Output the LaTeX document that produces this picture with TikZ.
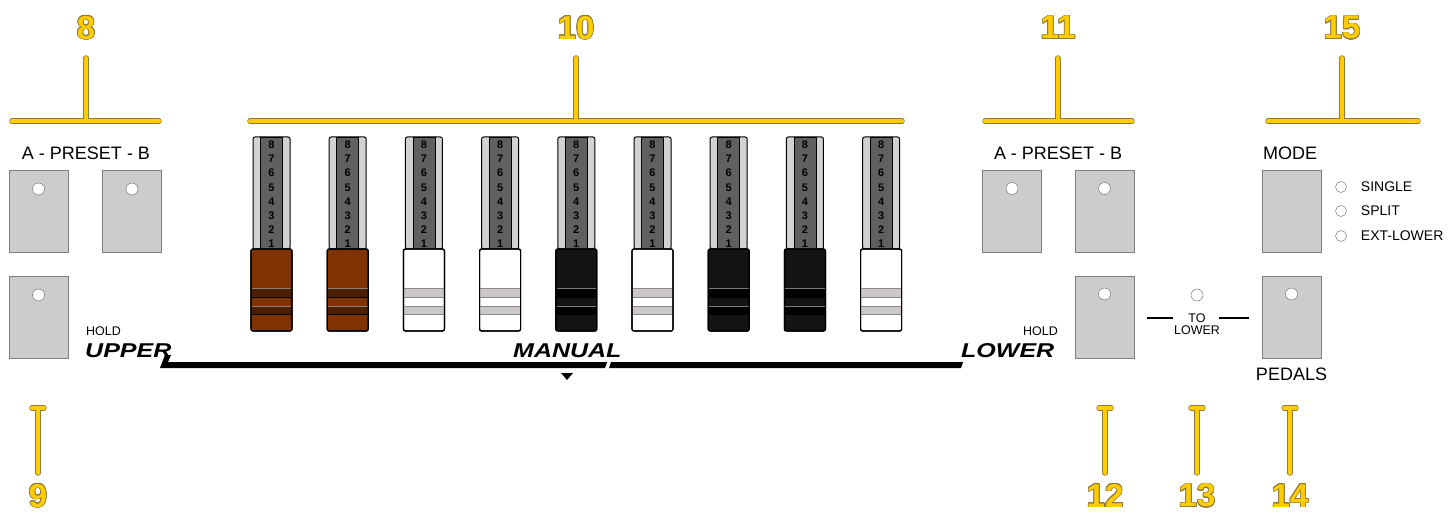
\documentclass[tikz,border=0pt]{standalone}
\usepackage{fontspec}
\setmainfont{Liberation Sans}
\newfontfamily\bannerfont{Liberation Sans}[FakeStretch=1.25]
\usepackage[copies]{contour}
\contourlength{0.7pt}
\usetikzlibrary{positioning, calc}

\definecolor{ygold}{HTML}{FFCC00}
\definecolor{yedge}{HTML}{8C7A3C}
\definecolor{panelgray}{HTML}{CCCCCC}
\definecolor{edgegray}{HTML}{7F7F7F}
\definecolor{tubelight}{HTML}{D2D2D2}
\definecolor{tubedark}{HTML}{606060}
\definecolor{brn}{HTML}{7F3300}
\definecolor{brndark}{HTML}{4C1E00}
\definecolor{brnline}{HTML}{8F7F70}
\definecolor{knobblack}{HTML}{141414}
\definecolor{kline}{HTML}{7A7A7A}
\definecolor{wband}{HTML}{CCC8C8}
\definecolor{wline}{HTML}{8A8A8A}

\begin{document}
\begin{tikzpicture}[
    x = 1pt, y = -1pt,
    button/.style = {
      rectangle, draw = edgegray, fill = panelgray,
      minimum width = 59pt, minimum height = 82pt, inner sep = 0pt
    },
    led/.style = {
      circle, draw = edgegray!80!black, fill = white,
      minimum size = 12pt, inner sep = 0pt
    },
    tube/.style = {
      rectangle, draw = black, fill = tubelight, line width = 1pt,
      rounded corners = 2pt, minimum width = 37pt, minimum height = 112pt,
      inner sep = 0pt
    },
    strip/.style = {
      rectangle, draw = black, fill = tubedark, line width = 0.8pt,
      minimum width = 22pt, minimum height = 112pt, inner sep = 0pt
    },
    knob/.style = {
      rectangle, draw = black, line width = 1.2pt, rounded corners = 2pt,
      minimum width = 41pt, minimum height = 82pt, inner sep = 0pt
    },
    regnum/.style = {
      font = \fontsize{11}{11}\selectfont\bfseries, inner sep = 0pt
    },
    panel/.style = {font = \fontsize{18}{20}\selectfont, inner sep = 0pt},
    small/.style = {font = \fontsize{12.5}{14}\selectfont, inner sep = 0pt},
    modetext/.style = {font = \fontsize{14}{15}\selectfont, inner sep = 0pt},
    banner/.style = {
      font = \fontsize{20}{20}\bannerfont\bfseries\itshape, inner sep = 0pt
    },
    calllabel/.style = {
      font = \fontsize{33}{33}\selectfont\bfseries, text = ygold,
      inner sep = 0pt
    },
    callout/.style = {
      draw = ygold, line width = 4pt, line cap = round,
      preaction = {draw = yedge, line width = 5.4pt, line cap = round}
    },
    rule/.style = {draw = black, line width = 1.5pt},
    ]

    \path [fill = white, use as bounding box] (0,0) rectangle (1448,513);

    % draw callouts above
    \foreach \lab/\cx/\xl/\xr in {8/86/12/159, 10/576/250/902,
      11/1058/985/1132, 15/1342/1268/1418} {
      \node  [calllabel]  (c\lab)  at (\cx,28)  {\contour{yedge}{\lab}};
      \coordinate  (cl\lab)  at (\xl,121);
      \coordinate  (cr\lab)  at (\xr,121);
      \coordinate  (ct\lab)  at (\cx,58);
      \draw  [callout]  (cl\lab) -- (cr\lab)  (ct\lab) -- (ct\lab |- cl\lab);
    }

    % draw callouts below
    \foreach \lab/\cx in {9/38, 12/1105, 13/1197, 14/1290} {
      \node  [calllabel]  (c\lab)  at (\cx,496)  {\contour{yedge}{\lab}};
      \coordinate  (ct\lab)  at (\cx,408);
      \coordinate  (cb\lab)  at (\cx,473);
      \draw  [callout]  ([xshift=-6pt]ct\lab) -- ([xshift=6pt]ct\lab)
        (ct\lab) -- (cb\lab);
    }

    % upper presets and hold
    \node  [panel]  (upname)  at (86,153)  {A - PRESET - B};
    \node  [button]  (upA)  at (38.5,211)  {};
    \node  [button]  (upB)  at (132,211)  {};
    \node  [button]  (uphold)  at (38.5,317)  {};
    \foreach \b in {upA, upB, uphold}
    \node  [led, below = 13pt of \b.north]  (led\b)  {};
    \node  [small, anchor = west]  (holdU)  at (86,331)  {HOLD};

    % draw drawbars
    \foreach \hcol/\scol/\lcol/\bcol [count = \i] in {
      brn/brndark/brnline/black, brn/brndark/brnline/black,
      white/wband/wline/wline, white/wband/wline/wline,
      knobblack/black/kline/black, white/wband/wline/wline,
      knobblack/black/kline/black, knobblack/black/kline/black,
      white/wband/wline/wline} {
      \pgfmathsetmacro\cx{271.5 + 76.2*(\i - 1)}
      \node  [tube]  (tube\i)  at (\cx,193)  {};
      \node  [strip]  (strip\i)  at (\cx,193)  {};
      \foreach \n in {1, ..., 8} {
        \pgfmathsetmacro\ny{145 + 14.1*(8 - \n)}
        \node  [regnum]  (num\i-\n)  at (\cx,\ny)  {\n};
      }
      \node  [knob, fill = \hcol]  (knob\i)  at (\cx,290)  {};
      \foreach \top/\bot in {288/297, 306/314} {
        \fill  [\scol]  (\cx-19.8,\top) rectangle (\cx+19.8,\bot);
        \draw  [\lcol, line width = 1pt]  (\cx-19.8,\top) -- (\cx+19.8,\top);
        \draw  [\bcol, line width = 0.8pt]  (\cx-19.8,\bot) -- (\cx+19.8,\bot);
      }
      \node  [knob, fill = none]  at (\cx,290)  {};
    }

    % manual bar
    \node  [banner, anchor = base west]  (upper)  at (85,357)  {UPPER};
    \node  [banner, anchor = base west]  (manual)  at (513,357)  {MANUAL};
    \node  [banner, anchor = base west]  (lower)  at (961,357)  {LOWER};
    \fill  (160,368) -- (165,355) -- (171,355) -- (168,362) -- (607,362)
      -- (605,368) -- cycle;
    \fill  (609,368) -- (611,362) -- (963,362) -- (961,368) -- cycle;
    \fill  (561,373) -- (573,373) -- (567,380) -- cycle;

    % lower presets and hold
    \node  [panel]  (lowname)  at (1058,153)  {A - PRESET - B};
    \node  [button]  (lowA)  at (1012,211.5)  {};
    \node  [button]  (lowB)  at (1104.5,211.5)  {};
    \node  [button]  (lowhold)  at (1104.5,317)  {};
    \foreach \b in {lowA, lowB, lowhold}
    \node  [led, below = 12pt of \b.north]  (led\b)  {};
    \node  [small, anchor = east]  (holdL)  at (1058,331)  {HOLD};

    % to lower
    \node  [led]  (ledto)  at (1197,295)  {};
    \node  [small]  (to)  at (1197,318)  {TO};
    \node  [small, below = 3pt of to]  (tolow)  {LOWER};
    \draw  [rule]  ([xshift=-41pt]to.west) -- ([xshift=-15pt]to.west);
    \draw  [rule]  ([xshift=13pt]to.east) -- ([xshift=43pt]to.east);

    % mode and pedals
    \node  [panel]  (modename)  at (1290,153)  {MODE};
    \node  [button]  (mode)  at (1291.5,211.5)  {};
    \node  [button]  (pedals)  at (1291.5,317)  {};
    \node  [led, below = 12pt of pedals.north]  (ledpedals)  {};
    \node  [panel, below = 10pt of pedals]  (pedname)  {PEDALS};
    \foreach \m/\y in {SINGLE/187, SPLIT/211, EXT-LOWER/236} {
      \node  [led, minimum size = 11pt]  (led\m)  at (1341,\y)  {};
      \node  [modetext, right = 14pt of led\m]  (txt\m)  {\m};
    }

\end{tikzpicture}
\end{document}
